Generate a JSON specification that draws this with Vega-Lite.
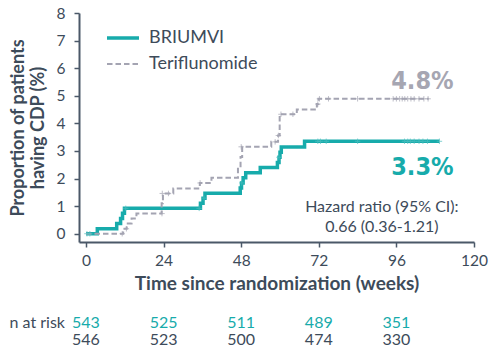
{
  "$schema": "https://vega.github.io/schema/vega-lite/v6.json",
  "width": 395,
  "height": 229,
  "autosize": {"type": "none"},
  "padding": {"left": 79, "top": 13, "right": 26, "bottom": 106},
  "background": "white",
  "config": {
    "font": "Lato",
    "view": {"stroke": null},
    "axis": {
      "grid": false,
      "domainColor": "#4b5868",
      "tickColor": "#4b5868",
      "domainWidth": 2,
      "tickWidth": 1.5,
      "tickSize": 5,
      "labelColor": "#3d4b5a",
      "labelFont": "Lato",
      "labelFontSize": 15.5,
      "labelOverlap": false,
      "labelFlush": false,
      "titleColor": "#3d4b5a",
      "titleFont": "Lato",
      "titleFontSize": 18,
      "titleFontWeight": "bold"
    },
    "legend": {
      "orient": "none",
      "legendX": 26,
      "legendY": 7,
      "padding": 0,
      "symbolSize": 1024,
      "symbolType": "stroke",
      "labelFont": "Lato",
      "labelFontSize": 18,
      "labelColor": "#3d4b5a",
      "labelOffset": 8,
      "rowPadding": -7
    }
  },
  "datasets": {
    "km": [
      {"arm": "BRIUMVI", "week": 0, "pct": 0},
      {"arm": "BRIUMVI", "week": 3.5, "pct": 0.18},
      {"arm": "BRIUMVI", "week": 9.5, "pct": 0.37},
      {"arm": "BRIUMVI", "week": 10.7, "pct": 0.55},
      {"arm": "BRIUMVI", "week": 11.3, "pct": 0.74},
      {"arm": "BRIUMVI", "week": 11.9, "pct": 0.92},
      {"arm": "BRIUMVI", "week": 35.4, "pct": 1.10},
      {"arm": "BRIUMVI", "week": 36.2, "pct": 1.29},
      {"arm": "BRIUMVI", "week": 36.8, "pct": 1.47},
      {"arm": "BRIUMVI", "week": 47.7, "pct": 1.66},
      {"arm": "BRIUMVI", "week": 48.1, "pct": 1.84},
      {"arm": "BRIUMVI", "week": 48.6, "pct": 2.03},
      {"arm": "BRIUMVI", "week": 49.4, "pct": 2.21},
      {"arm": "BRIUMVI", "week": 53.9, "pct": 2.40},
      {"arm": "BRIUMVI", "week": 59.2, "pct": 2.58},
      {"arm": "BRIUMVI", "week": 59.7, "pct": 2.77},
      {"arm": "BRIUMVI", "week": 60.0, "pct": 2.95},
      {"arm": "BRIUMVI", "week": 60.4, "pct": 3.14},
      {"arm": "BRIUMVI", "week": 67.6, "pct": 3.35},
      {"arm": "BRIUMVI", "week": 109.3, "pct": 3.35},
      {"arm": "Teriflunomide", "week": 0, "pct": 0},
      {"arm": "Teriflunomide", "week": 11.5, "pct": 0.18},
      {"arm": "Teriflunomide", "week": 12.6, "pct": 0.37},
      {"arm": "Teriflunomide", "week": 14.1, "pct": 0.55},
      {"arm": "Teriflunomide", "week": 15.6, "pct": 0.73},
      {"arm": "Teriflunomide", "week": 23.4, "pct": 1.10},
      {"arm": "Teriflunomide", "week": 23.8, "pct": 1.46},
      {"arm": "Teriflunomide", "week": 27.0, "pct": 1.64},
      {"arm": "Teriflunomide", "week": 35.2, "pct": 1.84},
      {"arm": "Teriflunomide", "week": 38.8, "pct": 2.03},
      {"arm": "Teriflunomide", "week": 47.0, "pct": 2.40},
      {"arm": "Teriflunomide", "week": 47.8, "pct": 2.78},
      {"arm": "Teriflunomide", "week": 48.3, "pct": 3.15},
      {"arm": "Teriflunomide", "week": 57.3, "pct": 3.33},
      {"arm": "Teriflunomide", "week": 59.4, "pct": 3.56},
      {"arm": "Teriflunomide", "week": 59.9, "pct": 4.33},
      {"arm": "Teriflunomide", "week": 65.2, "pct": 4.50},
      {"arm": "Teriflunomide", "week": 71.4, "pct": 4.70},
      {"arm": "Teriflunomide", "week": 71.9, "pct": 4.89},
      {"arm": "Teriflunomide", "week": 106, "pct": 4.89}
    ],
    "cens": [
      {"arm": "BRIUMVI", "week": 0.3, "pct": 0},
      {"arm": "BRIUMVI", "week": 1.2, "pct": 0},
      {"arm": "BRIUMVI", "week": 12.3, "pct": 0.92},
      {"arm": "BRIUMVI", "week": 35.0, "pct": 0.92},
      {"arm": "BRIUMVI", "week": 36.5, "pct": 1.29},
      {"arm": "BRIUMVI", "week": 48.2, "pct": 1.84},
      {"arm": "BRIUMVI", "week": 59.7, "pct": 2.77},
      {"arm": "BRIUMVI", "week": 71.7, "pct": 3.35},
      {"arm": "BRIUMVI", "week": 72.5, "pct": 3.35},
      {"arm": "BRIUMVI", "week": 74.3, "pct": 3.35},
      {"arm": "BRIUMVI", "week": 84, "pct": 3.35},
      {"arm": "BRIUMVI", "week": 98.5, "pct": 3.35},
      {"arm": "BRIUMVI", "week": 99.5, "pct": 3.35},
      {"arm": "BRIUMVI", "week": 100.3, "pct": 3.35},
      {"arm": "BRIUMVI", "week": 101.5, "pct": 3.35},
      {"arm": "BRIUMVI", "week": 103, "pct": 3.35},
      {"arm": "BRIUMVI", "week": 104.2, "pct": 3.35},
      {"arm": "BRIUMVI", "week": 105.6, "pct": 3.35},
      {"arm": "BRIUMVI", "week": 109.3, "pct": 3.35},
      {"arm": "Teriflunomide", "week": 11.2, "pct": 0},
      {"arm": "Teriflunomide", "week": 12.5, "pct": 0.18},
      {"arm": "Teriflunomide", "week": 23.5, "pct": 0.73},
      {"arm": "Teriflunomide", "week": 23.6, "pct": 1.46},
      {"arm": "Teriflunomide", "week": 25.5, "pct": 1.46},
      {"arm": "Teriflunomide", "week": 35.3, "pct": 1.84},
      {"arm": "Teriflunomide", "week": 48.0, "pct": 3.15},
      {"arm": "Teriflunomide", "week": 58.5, "pct": 3.33},
      {"arm": "Teriflunomide", "week": 59.5, "pct": 3.56},
      {"arm": "Teriflunomide", "week": 60.3, "pct": 4.33},
      {"arm": "Teriflunomide", "week": 64, "pct": 4.33},
      {"arm": "Teriflunomide", "week": 71.7, "pct": 4.70},
      {"arm": "Teriflunomide", "week": 72.2, "pct": 4.89},
      {"arm": "Teriflunomide", "week": 75, "pct": 4.89},
      {"arm": "Teriflunomide", "week": 84, "pct": 4.89},
      {"arm": "Teriflunomide", "week": 95, "pct": 4.89},
      {"arm": "Teriflunomide", "week": 96, "pct": 4.89},
      {"arm": "Teriflunomide", "week": 97, "pct": 4.89},
      {"arm": "Teriflunomide", "week": 97.8, "pct": 4.89},
      {"arm": "Teriflunomide", "week": 98.6, "pct": 4.89},
      {"arm": "Teriflunomide", "week": 99.5, "pct": 4.89},
      {"arm": "Teriflunomide", "week": 100.5, "pct": 4.89},
      {"arm": "Teriflunomide", "week": 101.5, "pct": 4.89},
      {"arm": "Teriflunomide", "week": 103, "pct": 4.89},
      {"arm": "Teriflunomide", "week": 104.5, "pct": 4.89},
      {"arm": "Teriflunomide", "week": 105.8, "pct": 4.89}
    ],
    "risk": [
      {"arm": "BRIUMVI", "week": 0, "n": "543"},
      {"arm": "BRIUMVI", "week": 24, "n": "525"},
      {"arm": "BRIUMVI", "week": 48, "n": "511"},
      {"arm": "BRIUMVI", "week": 72, "n": "489"},
      {"arm": "BRIUMVI", "week": 96, "n": "351"},
      {"arm": "Teriflunomide", "week": 0, "n": "546"},
      {"arm": "Teriflunomide", "week": 24, "n": "523"},
      {"arm": "Teriflunomide", "week": 48, "n": "500"},
      {"arm": "Teriflunomide", "week": 72, "n": "474"},
      {"arm": "Teriflunomide", "week": 96, "n": "330"}
    ]
  },
  "layer": [
    {
      "data": {"name": "km"},
      "mark": {"type": "line", "interpolate": "step-after"},
      "encoding": {
        "x": {
          "field": "week", "type": "quantitative",
          "scale": {"domain": [-2.16, 120], "nice": false, "zero": false},
          "axis": {"values": [0, 24, 48, 72, 96, 120], "title": "Time since randomization (weeks)", "titleFontSize": 19, "labelPadding": 6, "titlePadding": 6}
        },
        "y": {
          "field": "pct", "type": "quantitative",
          "scale": {"domain": [-0.3, 8], "nice": false, "zero": false},
          "axis": {"values": [0, 1, 2, 3, 4, 5, 6, 7, 8], "tickCount": 9, "title": ["Proportion of patients", "having CDP (%)"], "labelPadding": 9, "titlePadding": 9, "titleLineHeight": 20}
        },
        "color": {
          "field": "arm", "type": "nominal",
          "scale": {"domain": ["BRIUMVI", "Teriflunomide"], "range": ["#17abab", "#a4a4b2"]},
          "legend": {"title": null}
        },
        "strokeDash": {
          "field": "arm", "type": "nominal",
          "scale": {"domain": ["BRIUMVI", "Teriflunomide"], "range": [[1, 0], [5.5, 3]]},
          "legend": {"title": null}
        },
        "strokeWidth": {
          "field": "arm", "type": "ordinal",
          "scale": {"domain": ["BRIUMVI", "Teriflunomide"], "range": [3.5, 2]},
          "legend": {"title": null}
        }
      }
    },
    {
      "data": {"name": "cens"},
      "mark": {"type": "point", "shape": "M-1,0L1,0M0,-1L0,1", "filled": false, "size": 30, "strokeWidth": 1},
      "encoding": {
        "x": {"field": "week", "type": "quantitative"},
        "y": {"field": "pct", "type": "quantitative"},
        "stroke": {
          "field": "arm", "type": "nominal",
          "scale": {"domain": ["BRIUMVI", "Teriflunomide"], "range": ["#4fc0c0", "#a4a4b2"]},
          "legend": null
        }
      }
    },
    {
      "data": {"values": [{}]},
      "mark": {"type": "text", "text": "4.8%", "align": "left", "baseline": "alphabetic", "font": "DejaVu Sans Condensed", "fontWeight": "bold", "fontSize": 25, "color": "#a6a6b2"},
      "encoding": {"x": {"datum": 94.4}, "y": {"datum": 5.24}}
    },
    {
      "data": {"values": [{}]},
      "mark": {"type": "text", "text": "3.3%", "align": "left", "baseline": "alphabetic", "font": "DejaVu Sans Condensed", "fontWeight": "bold", "fontSize": 25, "color": "#17abab"},
      "encoding": {"x": {"datum": 94.4}, "y": {"datum": 2.12}}
    },
    {
      "data": {"values": [{}]},
      "mark": {"type": "text", "text": ["Hazard ratio (95% CI):", "0.66 (0.36-1.21)"], "align": "center", "baseline": "alphabetic", "lineHeight": 20, "fontSize": 16, "color": "#3d4b5a"},
      "encoding": {"x": {"datum": 91.5}, "y": {"datum": 0.78}}
    },
    {
      "data": {"values": [{}]},
      "mark": {"type": "text", "text": "n at risk", "align": "right", "baseline": "alphabetic", "fontSize": 16, "color": "#3d4b5a"},
      "encoding": {"x": {"datum": -6.5}, "y": {"datum": -3.4}}
    },
    {
      "data": {"name": "risk"},
      "transform": [{"filter": "datum.arm === 'BRIUMVI'"}],
      "mark": {"type": "text", "align": "center", "baseline": "alphabetic", "fontSize": 16, "color": "#17abab"},
      "encoding": {"x": {"field": "week", "type": "quantitative"}, "y": {"datum": -3.4}, "text": {"field": "n"}}
    },
    {
      "data": {"name": "risk"},
      "transform": [{"filter": "datum.arm === 'Teriflunomide'"}],
      "mark": {"type": "text", "align": "center", "baseline": "alphabetic", "fontSize": 16, "color": "#3d4b5a"},
      "encoding": {"x": {"field": "week", "type": "quantitative"}, "y": {"datum": -4.02}, "text": {"field": "n"}}
    }
  ]
}
